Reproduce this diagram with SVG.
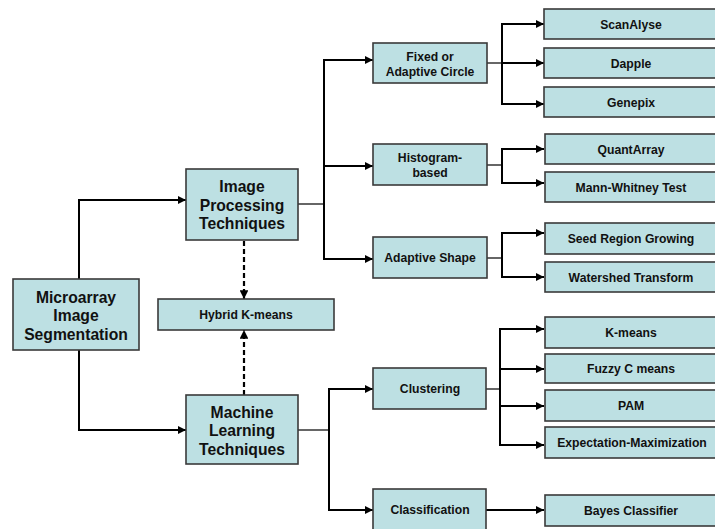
<svg xmlns="http://www.w3.org/2000/svg" width="715" height="529" viewBox="0 0 715 529">
<style>
.box{fill:#bde0e3;stroke:#3a3a3a;stroke-width:1.6}
.big{font-family:"Liberation Sans",Arial,sans-serif;font-weight:bold;font-size:15.7px;fill:#111;text-anchor:middle}
.sm{font-family:"Liberation Sans",Arial,sans-serif;font-weight:bold;font-size:12.2px;fill:#111;text-anchor:middle}
.ln{fill:none;stroke:#000;stroke-width:2}
.thin{fill:none;stroke:#000;stroke-width:1.2}
.dash{fill:none;stroke:#000;stroke-width:2.2;stroke-dasharray:5,3}
</style>
<defs>
<marker id="ah" viewBox="0 0 10 10" refX="10" refY="5" markerWidth="4.5" markerHeight="4" markerUnits="strokeWidth" orient="auto">
<path d="M0,0 L10,5 L0,10 Z" fill="#000"/>
</marker>
</defs>
<g id="connectors">
<path class="ln" d="M79,279 V200 H186" marker-end="url(#ah)"/>
<path class="ln" d="M79,350 V430 H186" marker-end="url(#ah)"/>
<path class="dash" d="M244,241 V299" marker-end="url(#ah)"/>
<path class="dash" d="M244,395 V330" marker-end="url(#ah)"/>
<path class="thin" d="M298,204 H324"/>
<path class="ln" d="M324,60 V259"/>
<path class="ln" d="M323,60 H373" marker-end="url(#ah)"/>
<path class="ln" d="M323,166 H373" marker-end="url(#ah)"/>
<path class="ln" d="M323,259 H373" marker-end="url(#ah)"/>
<path class="thin" d="M487,63 H502"/>
<path class="ln" d="M502,24 V104"/>
<path class="ln" d="M501,24 H544" marker-end="url(#ah)"/>
<path class="ln" d="M501,63 H544" marker-end="url(#ah)"/>
<path class="ln" d="M501,104 H544" marker-end="url(#ah)"/>
<path class="thin" d="M487,165 H502"/>
<path class="ln" d="M502,149 V183"/>
<path class="ln" d="M501,149 H544" marker-end="url(#ah)"/>
<path class="ln" d="M501,183 H544" marker-end="url(#ah)"/>
<path class="thin" d="M487,258 H502"/>
<path class="ln" d="M502,233 V277"/>
<path class="ln" d="M501,233 H544" marker-end="url(#ah)"/>
<path class="ln" d="M501,277 H544" marker-end="url(#ah)"/>
<path class="thin" d="M298,430 H329"/>
<path class="ln" d="M329,389 V510"/>
<path class="ln" d="M328,389 H373" marker-end="url(#ah)"/>
<path class="ln" d="M328,510 H373" marker-end="url(#ah)"/>
<path class="thin" d="M486,389 H500"/>
<path class="ln" d="M500,329 V445"/>
<path class="ln" d="M499,329 H544" marker-end="url(#ah)"/>
<path class="ln" d="M499,369 H544" marker-end="url(#ah)"/>
<path class="ln" d="M499,406 H544" marker-end="url(#ah)"/>
<path class="ln" d="M499,445 H544" marker-end="url(#ah)"/>
<path class="ln" d="M486,510 H544" marker-end="url(#ah)"/>
</g>
<g id="microarray"><rect class="box" x="13" y="279" width="126" height="71"/>
<text class="big" x="76" y="302.5">Microarray</text><text class="big" x="76" y="321">Image</text><text class="big" x="76" y="339.5">Segmentation</text></g>
<g id="image-processing"><rect class="box" x="186" y="169" width="112" height="71"/>
<text class="big" x="242" y="192">Image</text><text class="big" x="242" y="210.5">Processing</text><text class="big" x="242" y="229">Techniques</text></g>
<g id="hybrid"><rect class="box" x="158" y="299" width="176" height="31"/>
<text class="sm" x="246" y="319">Hybrid K-means</text></g>
<g id="machine-learning"><rect class="box" x="186" y="395" width="112" height="69"/>
<text class="big" x="242" y="417.5">Machine</text><text class="big" x="242" y="436">Learning</text><text class="big" x="242" y="454.5">Techniques</text></g>
<g id="fixed"><rect class="box" x="373" y="43" width="114" height="40"/>
<text class="sm" x="430" y="61">Fixed or</text><text class="sm" x="430" y="76">Adaptive Circle</text></g>
<g id="histogram"><rect class="box" x="373" y="144" width="114" height="41"/>
<text class="sm" x="430" y="162">Histogram-</text><text class="sm" x="430" y="177">based</text></g>
<g id="adaptive-shape"><rect class="box" x="373" y="237" width="114" height="41"/>
<text class="sm" x="430" y="262">Adaptive Shape</text></g>
<g id="clustering"><rect class="box" x="373" y="368" width="113" height="41"/>
<text class="sm" x="430" y="393">Clustering</text></g>
<g id="classification"><rect class="box" x="373" y="489" width="113" height="42"/>
<text class="sm" x="430" y="514">Classification</text></g>
<g id="scanalyse"><rect class="box" x="544" y="9" width="173" height="30"/>
<text class="sm" x="631" y="28.5">ScanAlyse</text></g>
<g id="dapple"><rect class="box" x="544" y="48" width="173" height="30"/>
<text class="sm" x="631" y="67.5">Dapple</text></g>
<g id="genepix"><rect class="box" x="544" y="87" width="173" height="30"/>
<text class="sm" x="631" y="106.5">Genepix</text></g>
<g id="quantarray"><rect class="box" x="545" y="134" width="172" height="30"/>
<text class="sm" x="631" y="153.5">QuantArray</text></g>
<g id="mann-whitney"><rect class="box" x="545" y="172" width="172" height="30"/>
<text class="sm" x="631" y="191.5">Mann-Whitney Test</text></g>
<g id="seed-region"><rect class="box" x="545" y="223" width="172" height="31"/>
<text class="sm" x="631" y="243">Seed Region Growing</text></g>
<g id="watershed"><rect class="box" x="545" y="262" width="172" height="30"/>
<text class="sm" x="631" y="281.5">Watershed Transform</text></g>
<g id="kmeans"><rect class="box" x="545" y="317" width="172" height="31"/>
<text class="sm" x="631" y="337">K-means</text></g>
<g id="fuzzy"><rect class="box" x="545" y="354" width="172" height="29"/>
<text class="sm" x="631" y="373">Fuzzy C means</text></g>
<g id="pam"><rect class="box" x="545" y="390" width="172" height="31"/>
<text class="sm" x="631" y="410">PAM</text></g>
<g id="em"><rect class="box" x="545" y="427" width="172" height="31"/>
<text class="sm" x="632" y="447">Expectation-Maximization</text></g>
<g id="bayes"><rect class="box" x="545" y="495" width="172" height="31"/>
<text class="sm" x="631" y="515">Bayes Classifier</text></g>
</svg>
